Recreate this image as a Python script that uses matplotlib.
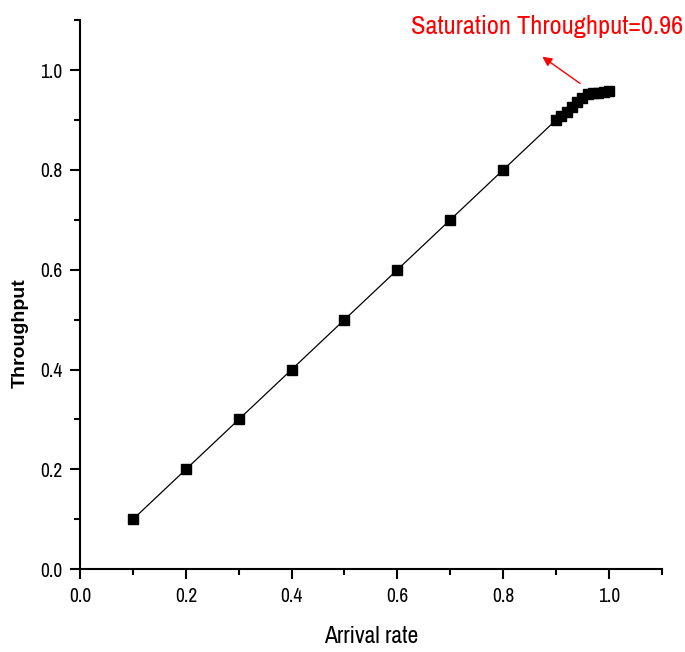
import matplotlib
matplotlib.use("Agg")
import matplotlib.pyplot as plt
from matplotlib import font_manager
from matplotlib.ticker import MultipleLocator

arrival_rate = [0.1, 0.2, 0.3, 0.4, 0.5, 0.6, 0.7, 0.8, 0.9,
                0.91, 0.92, 0.93, 0.94, 0.95, 0.96, 0.97, 0.98, 0.99, 1.0]
throughput = [0.1, 0.2, 0.3, 0.4, 0.5, 0.6, 0.7, 0.8, 0.9,
              0.908, 0.916, 0.926, 0.936, 0.945, 0.952, 0.955, 0.955, 0.956, 0.958]

# pick an Arial Narrow lookalike from whatever is installed
installed = {f.name for f in font_manager.fontManager.ttflist}
narrow_pref = ["Liberation Sans Narrow", "Arial Narrow", "Archivo Narrow", "PT Sans Narrow",
               "Roboto Condensed", "Pragati Narrow", "Fira Sans Condensed",
               "IBM Plex Sans Condensed", "Encode Sans Condensed"]
narrow = [n for n in narrow_pref if n in installed][:1] + ["DejaVu Sans"]
regular = [n for n in ["Liberation Sans", "Arimo"] if n in installed][:1] + ["DejaVu Sans"]

fig = plt.figure(figsize=(6.85, 6.52), dpi=100)
ax = fig.add_axes([0.117, 0.127, 0.849, 0.842])

ax.plot(arrival_rate, throughput, color="black", lw=0.9, marker="s",
        markersize=6.5, markerfacecolor="black", markeredgecolor="black")

ax.set_xlim(0, 1.1)
ax.set_ylim(0, 1.1)
ax.set_xticks([0, 0.2, 0.4, 0.6, 0.8, 1.0])
ax.set_yticks([0, 0.2, 0.4, 0.6, 0.8, 1.0])
ax.xaxis.set_minor_locator(MultipleLocator(0.1))
ax.yaxis.set_minor_locator(MultipleLocator(0.1))

for s in ("top", "right"):
    ax.spines[s].set_visible(False)
for s in ("left", "bottom"):
    ax.spines[s].set_linewidth(1.5)

ax.tick_params(which="major", direction="out", length=7, width=1.5, labelsize=14, pad=6)
ax.tick_params(which="minor", direction="out", length=4, width=1.5)
for lab in ax.get_xticklabels() + ax.get_yticklabels():
    lab.set_family(narrow)

ax.set_xlabel("Arrival rate", fontsize=17, family=narrow, labelpad=14)
ax.set_ylabel("Throughput", fontsize=14, family=regular, fontweight="semibold")
ax.yaxis.set_label_coords(-0.089, 0.43)

ax.annotate("", xy=(0.87, 1.03), xytext=(0.95, 0.97),
            arrowprops=dict(arrowstyle="-|>", color="red", lw=1, mutation_scale=14),
            annotation_clip=False)
ax.text(0.884, 1.087, "Saturation Throughput=0.96", color="red", fontsize=19,
        family=narrow, ha="center", va="center", clip_on=False)

fig.savefig("out.png", dpi=100)
